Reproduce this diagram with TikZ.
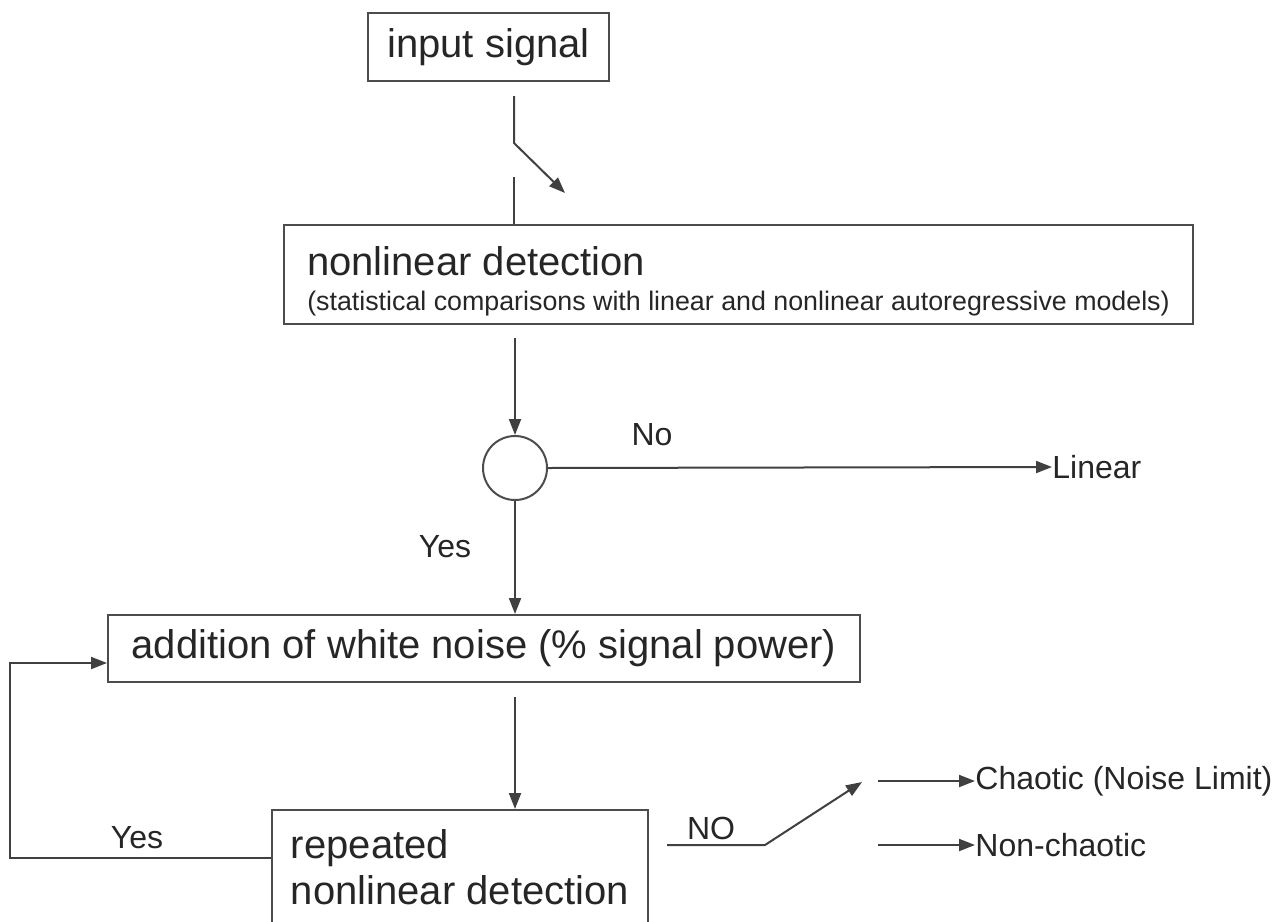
\documentclass[tikz,border=0pt]{standalone}
\usepackage{fontspec}
\setmainfont{Liberation Sans}
\usetikzlibrary{arrows.meta,positioning}

\begin{document}
\begin{tikzpicture}[x=0.5pt,y=-0.5pt,
  >={Triangle[length=8pt,width=6pt]},
  every node/.style={text=black!85, inner sep=0pt},
  box/.style={draw=black!70, line width=1pt, rectangle, font=\fontsize{20}{23}\selectfont},
  wire/.style={draw=black!75, line width=1pt},
  lbl/.style={font=\fontsize{16}{19}\selectfont}]
\useasboundingbox (0,0) rectangle (1278,921);

\node[box, minimum width=120.5pt, minimum height=34pt] (input) at (488.5,47) {input signal};
\node[box, minimum width=454.5pt, minimum height=49.5pt, text height=38.6pt, align=left] (detect) at (738.5,274.5)
  {nonlinear detection\\[-5.5pt]{\fontsize{13.4}{16}\selectfont (statistical comparisons with linear and nonlinear autoregressive models)}};
\node[draw=black!70, line width=1pt, circle, minimum size=32pt] (decide) at (515,468) {};
\node[box, minimum width=376pt, minimum height=33.5pt] (noise) at (484,648.5) {addition of white noise (\% signal power)};
\node[box, minimum width=188pt, minimum height=57.5pt, align=left] (redetect) at (460,867.5)
  {repeated\\nonlinear detection};

% switch under the input
\coordinate (sw top) at (514,96);
\coordinate (sw pivot) at (514,143);
\coordinate (sw tip) at (565,193);
\coordinate (sw pin) at (514,177);
\draw[wire,->] (sw top) -- (sw pivot) -- (sw tip);
\draw[wire] (sw pin) -- (sw pin |- detect.north);

\coordinate (detect out) at (515,338);
\draw[wire,->] (detect out) -- (decide.north);

\node[lbl, anchor=west] (linear) at (1052,467) {Linear};
\draw[wire,->] (decide.east) -- (linear.west);
\node[lbl] (no) at (652,435) {No};
\draw[wire,->] (decide.south) -- (decide |- noise.north);
\node[lbl] (yes) at (445,547) {Yes};

\coordinate (noise out) at (515,697);
\draw[wire,->] (noise out) -- (noise out |- redetect.north);

% loop back
\coordinate (loop a) at (10,858);
\coordinate (loop b) at (10,663);
\draw[wire,->] (loop a -| redetect.west) -- (loop a) -- (loop b) -- (loop b -| noise.west);
\node[lbl] (yes2) at (137,838) {Yes};

% second switch
\coordinate (no a) at (667,845);
\coordinate (no b) at (765,845);
\coordinate (no tip) at (862,782);
\draw[wire,->] (no a) -- (no b) -- (no tip);
\node[lbl] (NO) at (711,828) {NO};

\node[lbl, anchor=west] (chaotic) at (975,781) {Chaotic (Noise Limit)};
\node[lbl, anchor=west] (nonchaotic) at (975,845) {Non-chaotic};
\coordinate (ch in) at (878,781);
\coordinate (nch in) at (878,845);
\draw[wire,->] (ch in) -- (chaotic.west);
\draw[wire,->] (nch in) -- (nonchaotic.west);
\end{tikzpicture}
\end{document}
